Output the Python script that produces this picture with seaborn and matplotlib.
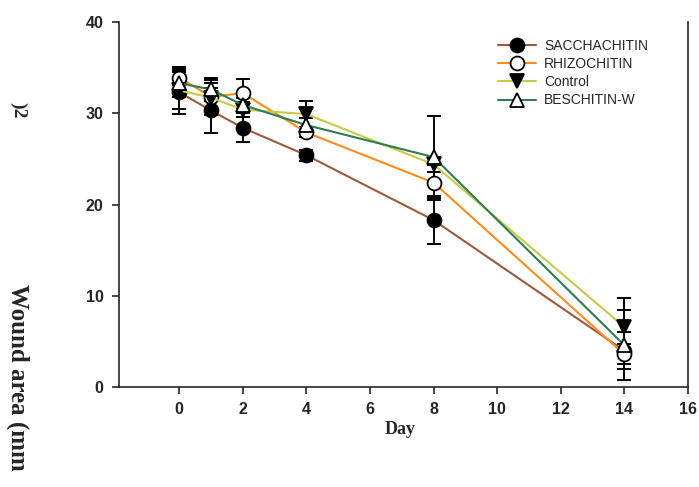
import numpy as np
import pandas as pd
import matplotlib
matplotlib.use("Agg")
import matplotlib.pyplot as plt
import seaborn as sns

# data
days = [0, 1, 2, 4, 8, 14]
sacch = [32.3, 30.3, 28.4, 25.4, 18.3, 4.0]
sacch_err = [2.4, 2.5, 1.6, 0.6, 2.6, 2.0]
rhizo = [33.9, 31.8, 32.2, 27.9, 22.4, 3.6]
rhizo_err = [1.2, 1.5, 1.6, 0.5, 1.9, 1.1]
control = [32.5, 31.7, 30.4, 29.9, 24.4, 6.6]
control_err = [2.0, 1.9, 0.8, 1.4, 0.8, 3.2]
besch = [33.3, 32.6, 30.9, 28.7, 25.2, 4.6]
besch_err = [1.5, 1.3, 0.8, 0.8, 4.5, 3.8]

names = ["SACCHACHITIN", "RHIZOCHITIN", "Control", "BESCHITIN-W"]
values = [sacch, rhizo, control, besch]
errors = [sacch_err, rhizo_err, control_err, besch_err]
colors = ["#9c5a3c", "#ff8c1a", "#c9c94a", "#2f7d4f"]
markers = ["o", "o", "v", "^"]
faces = ["black", "white", "black", "white"]

df = pd.DataFrame({
    "Day": days * 4,
    "Area": sum(values, []),
    "Err": sum(errors, []),
    "Group": np.repeat(names, len(days)),
})

sns.set_style("ticks")
fig = plt.figure(figsize=(6.99, 4.87), dpi=100)
ax = fig.add_axes([0.170, 0.205, 0.814, 0.750])

for name, col, mk, fc in zip(names, colors, markers, faces):
    sub = df[df["Group"] == name]
    ax.errorbar(sub["Day"], sub["Area"], yerr=sub["Err"], fmt="none",
                ecolor="black", elinewidth=1.4, capsize=5, capthick=1.4, zorder=2)
    sns.lineplot(data=sub, x="Day", y="Area", ax=ax, color=col, linewidth=1.5,
                 marker=mk, markersize=10, markerfacecolor=fc,
                 markeredgecolor="black", markeredgewidth=1.3,
                 label=name, zorder=3)

ax.set_xlim(-1.9, 16)
ax.set_ylim(0, 40)
ax.set_xticks(range(0, 17, 2))
ax.set_yticks(range(0, 41, 10))
ax.spines["top"].set_visible(False)
for side in ["left", "bottom", "right"]:
    ax.spines[side].set_linewidth(1.2)
ax.tick_params(direction="out", length=5, width=1.2, pad=6)
for lab in ax.get_xticklabels() + ax.get_yticklabels():
    lab.set_fontfamily("Liberation Sans")
    lab.set_fontweight("bold")
    lab.set_fontsize(11.5)
ax.set_xlabel("")
ax.set_ylabel("")

fig.text(400 / 699, 1 - 430 / 487, "Day", ha="center", va="center",
         family="Liberation Serif", fontweight="bold", fontsize=13)
fig.text(18 / 699, 1 - 284 / 487, "Wound area (mm", rotation=-90, ha="center",
         va="top", family="Liberation Serif", fontweight="bold", fontsize=18)
fig.text(18 / 699, 1 - 110 / 487, ")2", rotation=-90, ha="center", va="center",
         family="Liberation Serif", fontweight="bold", fontsize=14)

leg = ax.legend(loc="upper left", bbox_to_anchor=(498 / 699, 1 - 39 / 487),
                bbox_transform=fig.transFigure, frameon=False,
                handlelength=2.7, handletextpad=0.6, labelspacing=0.3,
                borderpad=0, borderaxespad=0,
                prop={"family": "Liberation Sans", "size": 10})

fig.savefig("out.png", dpi=100)
